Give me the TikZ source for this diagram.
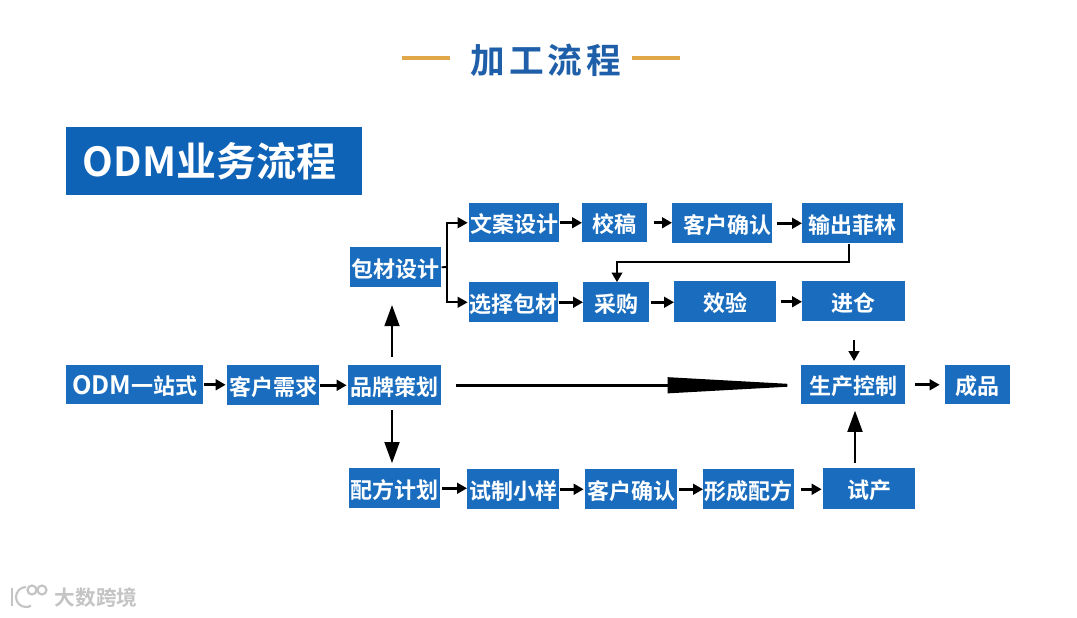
\documentclass[tikz,border=0pt]{standalone}
\usepackage{fontspec}
\setmainfont{Noto Sans CJK SC}[BoldFont={Noto Sans CJK SC Bold}]
\usetikzlibrary{arrows.meta}
\definecolor{boxblue}{HTML}{1A6DBE}
\definecolor{headblue}{HTML}{0F63B6}
\definecolor{titleblue}{HTML}{1F5FA9}
\definecolor{rulegold}{HTML}{E2A748}
\definecolor{markgray}{HTML}{C4C4C4}
\tikzset{
  stepbox/.style={fill=boxblue,text=white,font=\bfseries\fontsize{16.5pt}{18pt}\selectfont,inner sep=0pt,anchor=north west,text height=17pt,text depth=2pt},
  flow/.style={-{Triangle[length=7.5pt,width=8pt]},line width=2pt,black},
  bigflow/.style={-{Triangle[length=16pt,width=11pt]},line width=2.2pt,black},
  thinflow/.style={-{Triangle[length=7pt,width=8pt]},line width=1.2pt,black},
  branch/.style={line width=1.4pt,black}
}
\newcommand{\stepnode}[6]{\node[stepbox,minimum width=#5*0.75pt,minimum height=#6*0.75pt] (#1) at (#3,#4) {#2};}
\begin{document}
\begin{tikzpicture}[x=0.75pt,y=-0.75pt]
\useasboundingbox (0,0) rectangle (1077,617);
\fill[white] (0,0) rectangle (1077,617);

% title
\node[text=titleblue,font=\bfseries\fontsize{26pt}{28pt}\selectfont] (title) at (546,60) {加\hspace{3pt}工\hspace{3pt}流\hspace{3pt}程};
\coordinate (ruleL) at (402,58);
\coordinate (ruleR) at (680,58);
\draw[rulegold,line width=2.4pt] (ruleL) -- ++(48,0);
\draw[rulegold,line width=2.4pt] (ruleR) -- ++(-48,0);

% heading
\node[fill=headblue,text=white,font=\bfseries\fontsize{30pt}{32pt}\selectfont,inner sep=0pt,anchor=north west,minimum width=222pt,minimum height=51pt] (heading) at (66,127) {\hspace{-7pt}ODM业务流程};

% packaging rows
\stepnode{baocai}{包材设计}{350}{247}{91}{40}
\stepnode{wenan}{文案设计}{469}{203}{90}{39}
\stepnode{jiaogao}{校稿}{582}{203}{65}{39}
\stepnode{queren}{\hspace{8pt}客户确认}{672}{203}{100}{40}
\stepnode{feilin}{输出菲林}{802}{203}{101}{40}
\stepnode{xuanze}{选择包材}{469}{282}{89}{40}
\stepnode{caigou}{采购}{583}{282}{66}{40}
\stepnode{xiaoyan}{效验}{674}{281}{102}{41}
\stepnode{jincang}{进仓}{802}{281}{103}{40}

% middle row
\stepnode{odm}{{\fontsize{19pt}{20pt}\selectfont ODM}一站式}{66}{365}{137}{39}
\stepnode{xuqiu}{客户需求}{227}{365}{92}{40}
\stepnode{pinpai}{品牌策划}{348}{365}{93}{40}
\stepnode{kongzhi}{生产控制}{801}{365}{104}{39}
\stepnode{chengpin}{成品}{945}{365}{65}{39}

% formula row
\stepnode{peifang}{配方计划}{349}{468}{91}{40}
\stepnode{xiaoyang}{试制小样}{467}{469}{92}{40}
\stepnode{queren2}{客户确认}{585}{469}{92}{40}
\stepnode{xingcheng}{形成配方}{703}{469}{91}{40}
\stepnode{shichan}{试产}{823}{468}{92}{41}

% connectors
\draw[flow] (wenan.east) -- (wenan.east -| jiaogao.west);
\draw[flow,shorten <=5pt] (jiaogao.east) -- (jiaogao.east -| queren.west);
\draw[flow,shorten <=3pt] (queren.east) -- (queren.east -| feilin.west);
\draw[flow] (xuanze.east) -- (xuanze.east -| caigou.west);
\draw[flow,shorten <=1pt] (caigou.east) -- (caigou.east -| xiaoyan.west);
\draw[flow,shorten <=3pt] (xiaoyan.east) -- (xiaoyan.east -| jincang.west);
\draw[flow,shorten >=1pt] (odm.east) -- (odm.east -| xuqiu.west);
\draw[flow,shorten >=1pt] (xuqiu.east) -- (xuqiu.east -| pinpai.west);
\draw[flow,shorten <=7pt,shorten >=4pt] (kongzhi.east) -- (kongzhi.east -| chengpin.west);
\draw[flow,shorten <=1pt] (peifang.east) -- (peifang.east -| xiaoyang.west);
\draw[flow,shorten >=1pt] (xiaoyang.east) -- (xiaoyang.east -| queren2.west);
\draw[flow,shorten <=1pt] (queren2.east) -- (queren2.east -| xingcheng.west);
\draw[flow,shorten <=5pt,shorten >=1pt] (xingcheng.east) -- (xingcheng.east -| shichan.west);

% branch out of packaging design
\coordinate (fork) at (447,267);
\draw[branch] (baocai.east) -- (fork);
\draw[flow,line width=1.5pt,shorten >=1pt] (fork) |- (wenan.west);
\draw[flow,line width=1.5pt,shorten >=1pt] (fork) |- (xuanze.west);

% feedback to purchasing
\coordinate (backR) at (849,262);
\coordinate (backL) at (617,262);
\draw[thinflow] (feilin.south -| backR) -- (backR) -- (backL) -- (caigou.north -| backL);

% vertical arrows
\draw[bigflow,shorten <=6pt,shorten >=13pt] (pinpai.north -| 392,0) -- (baocai.south -| 392,0);
\draw[bigflow,shorten <=3.5pt,shorten >=3.5pt] (pinpai.south -| 392,0) -- (peifang.north -| 392,0);
\draw[bigflow,shorten <=4pt,shorten >=4.5pt] (shichan.north -| 855,0) -- (kongzhi.south -| 855,0);
\draw[flow,shorten <=14pt,shorten >=3pt] (jincang.south -| 854,0) -- (kongzhi.north -| 854,0);

% long arrow across
\draw[-{Triangle[length=111pt,width=11.5pt]},line width=2.2pt,shorten <=11pt,shorten >=-11pt] (pinpai.east) -- (pinpai.east -| kongzhi.west);

% watermark
\begin{scope}[markgray,line width=1.6pt]
\draw (12,588) -- (12,606);
\draw (26,587) arc[start angle=270,end angle=60,radius=10];
\draw (32,590) circle[radius=4.5];
\draw (42,590) circle[radius=4.5];
\end{scope}
\node[text=markgray,font=\bfseries\fontsize{15.5pt}{16pt}\selectfont] (mark) at (96,598) {大数跨境};
\end{tikzpicture}
\end{document}
